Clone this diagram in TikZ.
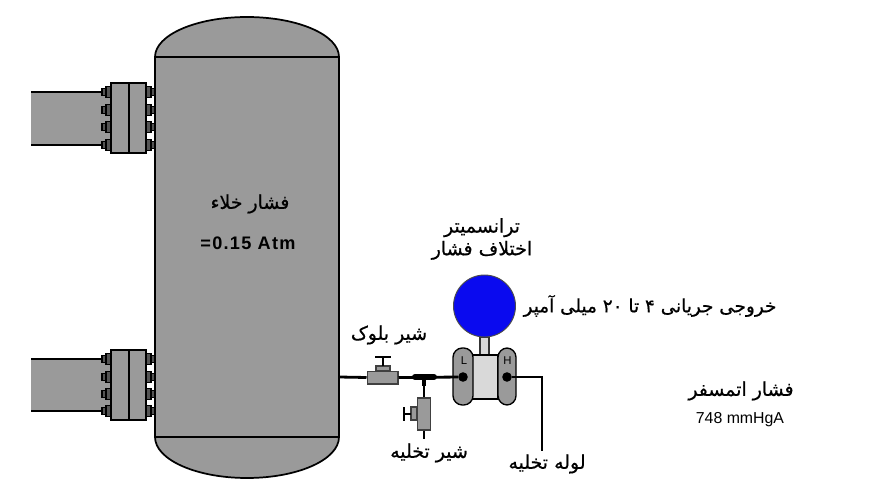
\documentclass[tikz,border=0pt]{standalone}
\usepackage{fontspec}
\setmainfont{Liberation Sans}
\newfontfamily\farsifont[Script=Arabic,FakeBold=0.6]{DejaVu Sans}
\newfontfamily\valuefont[LetterSpace=7]{Liberation Sans Bold}
\TeXXeTstate=1
\definecolor{tankgray}{HTML}{9A9A9A}
\definecolor{bodygray}{HTML}{D9D9D9}
\definecolor{ballblue}{HTML}{0A0AEF}
\usetikzlibrary{positioning}
\tikzset{
	vessel/.style={draw=black, fill=tankgray, line width=1.3pt},
	flangeplate/.style={draw=black, fill=tankgray, line width=1pt},
	boltpart/.style={draw=black, fill=tankgray!55!black, line width=0.8pt},
	impulseline/.style={draw=black, line width=2.1pt},
	valvebody/.style={draw=black!75, fill=tankgray, line width=1pt},
	capsule/.style={draw=black, fill=tankgray, line width=1pt, rounded corners=7pt},
	portdot/.style={circle, fill=black, inner sep=0pt, minimum size=7.2pt},
	farsilabel/.style={font=\farsifont\fontsize{14.2}{17}\selectfont, text=black, align=center, inner sep=0pt},
}
\begin{document}
\begin{tikzpicture}[x=0.75pt, y=-0.75pt]
	\useasboundingbox (0,0) rectangle (892,499);
	
	% --- 1. Vessel ---
	\filldraw[vessel] (155,57) arc [start angle=180, end angle=360, x radius=92, y radius=40]
	-- (339,437) arc [start angle=0, end angle=180, x radius=92, y radius=41] -- cycle;
	\draw[vessel] (155,57) -- (339,57);
	\draw[vessel] (155,437) -- (339,437);
	
	% --- 2. Pipes with flanges ---
	\foreach \ytop/\bolta/\boltb/\boltc/\boltd in {83/92/110/127/145, 350/359/377/394/411} {
		\fill[tankgray] (31,\bolta) rectangle (111,\boltd);
		\draw[vessel] (31,\bolta) -- (111,\bolta);
		\draw[vessel] (31,\boltd) -- (111,\boltd);
		\foreach \yb in {\bolta,\boltb,\boltc,\boltd} {
			\draw[boltpart] (102,\yb-3.5) rectangle (106,\yb+3.5);
			\draw[boltpart] (106,\yb-5.5) rectangle (111,\yb+5.5);
			\draw[boltpart] (146,\yb-5.5) rectangle (151,\yb+5.5);
			\draw[boltpart] (151,\yb-3.5) rectangle (155,\yb+3.5);
		}
		\draw[flangeplate] (111,\ytop) rectangle (129,\ytop+70);
		\draw[flangeplate] (129,\ytop) rectangle (146,\ytop+70);
	}
	
	% --- 3. Block valve ---
	\coordinate (tap) at (339,377);
	\node[valvebody, minimum width=23pt, minimum height=9.5pt, inner sep=0pt] (blockvalve) at (382.5,377.5) {};
	\draw[valvebody] (376,371) rectangle (390,366);
	\draw[black, line width=1.8pt] (383,366) -- (383,357);
	\draw[black, line width=1.8pt] (375,357) -- (391,357);
	
	% --- 4. Tee and drain valve ---
	\coordinate (teeleft) at (415,377);
	\coordinate (teeright) at (434,377);
	\coordinate (teemid) at (424,377);
	\coordinate (draintail) at (424,439);
	\node[valvebody, minimum width=10pt, minimum height=24pt, inner sep=0pt] (drainvalve) at (424,414) {};
	\draw[valvebody] (417,407) rectangle (411,420);
	\draw[black, line width=1.8pt] (411,414) -- (404,414);
	\draw[black, line width=1.8pt] (404,407) -- (404,421);
	
	% --- 5. Transmitter ---
	\draw[draw=black!80, fill=bodygray, line width=0.9pt] (480,337) rectangle (489,355);
	\draw[draw=black, fill=bodygray, line width=1pt] (472,355) rectangle (498,399);
	\draw[capsule] (453,348) rectangle (473,405);
	\draw[capsule] (498,348) rectangle (516,405);
	\node[circle, draw=black!70, fill=ballblue, line width=0.7pt, minimum size=46.5pt, inner sep=0pt] (ball) at (484.5,306) {};
	\node[portdot] (portL) at (463,377) {};
	\node[portdot] (portH) at (507,377) {};
	\node[font=\fontsize{8.5}{10}\selectfont, inner sep=0pt] (letterL) at (464,361) {L};
	\node[font=\fontsize{8.5}{10}\selectfont, inner sep=0pt] (letterH) at (507.5,361) {H};
	
	% --- 6. Impulse lines ---
	\coordinate (ventcorner) at (542,377);
	\coordinate (ventend) at (542,451);
	\draw[impulseline] (tap) -- (blockvalve.west);
	\draw[impulseline] (blockvalve.east) -- (portL);
	\draw[impulseline] (portH) -- (ventcorner) -- (ventend);
	\draw[black, line width=4.5pt, line cap=round] (teeleft) -- (teeright);
	\draw[black, line width=3.5pt] (teemid) -- ++(0,9);
	\draw[impulseline] (teemid) -- (drainvalve.north);
	\draw[impulseline] (drainvalve.south) -- (draintail);
	
	% --- 7. Labels ---
	\node[farsilabel] (vaclabel) at (250,204) {\beginR فشار خلاء\endR};
	\node[font=\valuefont\fontsize{13.6}{16}\selectfont, inner sep=0pt] (vacvalue) at (248,243) {=0.15 Atm};
	\node[farsilabel] (xmtrlabel) at (482,239) {\beginR ترانسمیتر\endR\\[0pt]\beginR اختلاف فشار\endR};
	\node[farsilabel, font=\farsifont\fontsize{13.8}{17}\selectfont] (outlabel) at (650,306) {\beginR خروجی جریانی ۴ تا \beginL ۲۰\endL{} میلی آمپر\endR};
	\node[farsilabel] (blocklabel) at (389,335) {\beginR شیر بلوک\endR};
	\node[farsilabel] (drainlabel) at (429,453) {\beginR شیر تخلیه\endR};
	\node[farsilabel] (ventlabel) at (547,464) {\beginR لوله تخلیه\endR};
	\node[farsilabel] (atmlabel) at (741,391) {\beginR فشار اتمسفر\endR};
	\node[font=\fontsize{11.9}{14}\selectfont, inner sep=0pt] (atmvalue) at (740,420) {748 mmHgA};
	
\end{tikzpicture}
\end{document}
